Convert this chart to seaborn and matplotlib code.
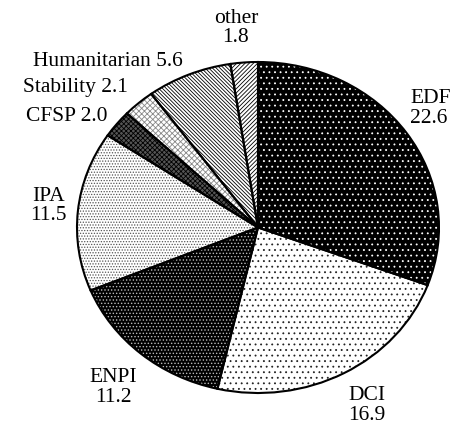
import seaborn as sns
import matplotlib.pyplot as plt

# EU external aid instruments (share values as printed on the chart)
instruments = ["EDF", "DCI", "ENPI", "IPA", "CFSP", "Stability", "Humanitarian", "other"]
amounts = [22.6, 16.9, 11.2, 11.5, 2.0, 2.1, 5.6, 1.8]
# which labels are written on two lines
two_line = [True, True, True, True, False, False, False, True]

# fill styles: face colour, hatch colour, hatch pattern
faces = ["black", "white", "black", "white", "#555555", "white", "white", "white"]
hatch_cols = ["white", "#222222", "#bbbbbb", "#555555", "black", "#888888", "black", "black"]
hatches = ["...", "...", ".....", "......", "xxxxxxx", "xxxxxx", "\\" * 9, "/" * 8]

# label anchors (x in pie-radius units, y in pie-radius units), alignment
label_xy = [(0.84, 0.72), (0.497, -1.075), (-0.80, -0.965), (-1.16, 0.13),
            (-0.834, 0.671), (-0.718, 0.843), (-0.414, 1.006), (-0.122, 1.205)]
label_ha = ["left", "left", "center", "center", "right", "right", "right", "center"]

sns.set_theme(style="white")
plt.rcParams["font.family"] = ["Liberation Serif", "DejaVu Serif"]
plt.rcParams["hatch.linewidth"] = 0.6

fig = plt.figure(figsize=(4.53, 4.28), dpi=100)
ax = fig.add_axes([0, 0, 1, 1])

wedges, _ = ax.pie(amounts, startangle=90, counterclock=False, radius=1)
for w, fc, hc, h in zip(wedges, faces, hatch_cols, hatches):
    w.set_facecolor(fc)
    w.set_edgecolor(hc)
    w.set_hatch(h)
    w.set_linewidth(0)

# outlines on top
ax.pie(amounts, startangle=90, counterclock=False, radius=1,
       wedgeprops=dict(fill=False, edgecolor="black", linewidth=1.5))

for name, val, tl, (x, y), ha in zip(instruments, amounts, two_line, label_xy, label_ha):
    txt = f"{name}\n{val:.1f}" if tl else f"{name} {val:.1f}"
    ax.text(x, y, txt, ha=ha, va="center", fontsize=15.5, color="black",
            linespacing=1.05)

ax.set_aspect("auto")
ax.set_xlim(-258 / 181, 195 / 181)
ax.set_ylim(-200.5 / 165.5, 227.5 / 165.5)
ax.axis("off")

fig.savefig("out.png", dpi=100, facecolor="white")
